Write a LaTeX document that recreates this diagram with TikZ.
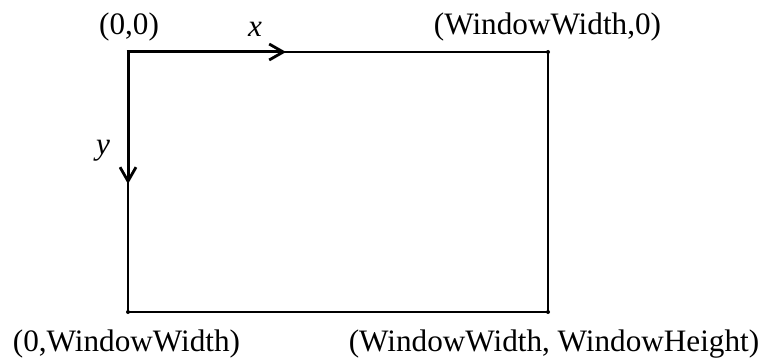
\documentclass[tikz,border=0pt]{standalone}
\usepackage{fontspec}
\setmainfont{Liberation Serif}
\usetikzlibrary{arrows.meta}
\begin{document}
\begin{tikzpicture}[x=1pt,y=1pt,
  lbl/.style={font=\fontsize{31.2}{34}\selectfont, inner sep=0pt, anchor=base},
  thinline/.style={line width=1.4pt},
  axis/.style={line width=3pt, -{Straight Barb[length=14pt,width=16pt,line width=2.8pt]}},
  cdot/.style={circle, fill=black, inner sep=0pt, minimum size=4pt}]
\useasboundingbox (0,0) rectangle (762,359);
\coordinate (tl) at (128,307);
\coordinate (tr) at (548,307);
\coordinate (bl) at (128,47);
\coordinate (br) at (548,47);
\coordinate (xt) at (286,307);
\coordinate (yt) at (128,175);
\draw[thinline] (tl) -- (tr) -- (br) -- (bl) -- (tl);
\node[cdot] (dtr) at (tr) {};
\node[cdot] (dbl) at (bl) {};
\node[cdot] (dbr) at (br) {};
\draw[axis] ([xshift=-1.5pt]tl) -- (xt);
\draw[axis] ([yshift=1.5pt]tl) -- (yt);
\node[lbl] (o) at (129,324) {(0,0)};
\node[lbl] (w0) at (547.5,324) {(WindowWidth,0)};
\node[lbl] (xl) at (255,322) {\itshape x};
\node[lbl] (yl) at (103,204) {\itshape y};
\node[lbl] (bll) at (126.5,8) {(0,WindowWidth)};
\node[lbl] (brl) at (554,8) {(WindowWidth, WindowHeight)};
\end{tikzpicture}
\end{document}
